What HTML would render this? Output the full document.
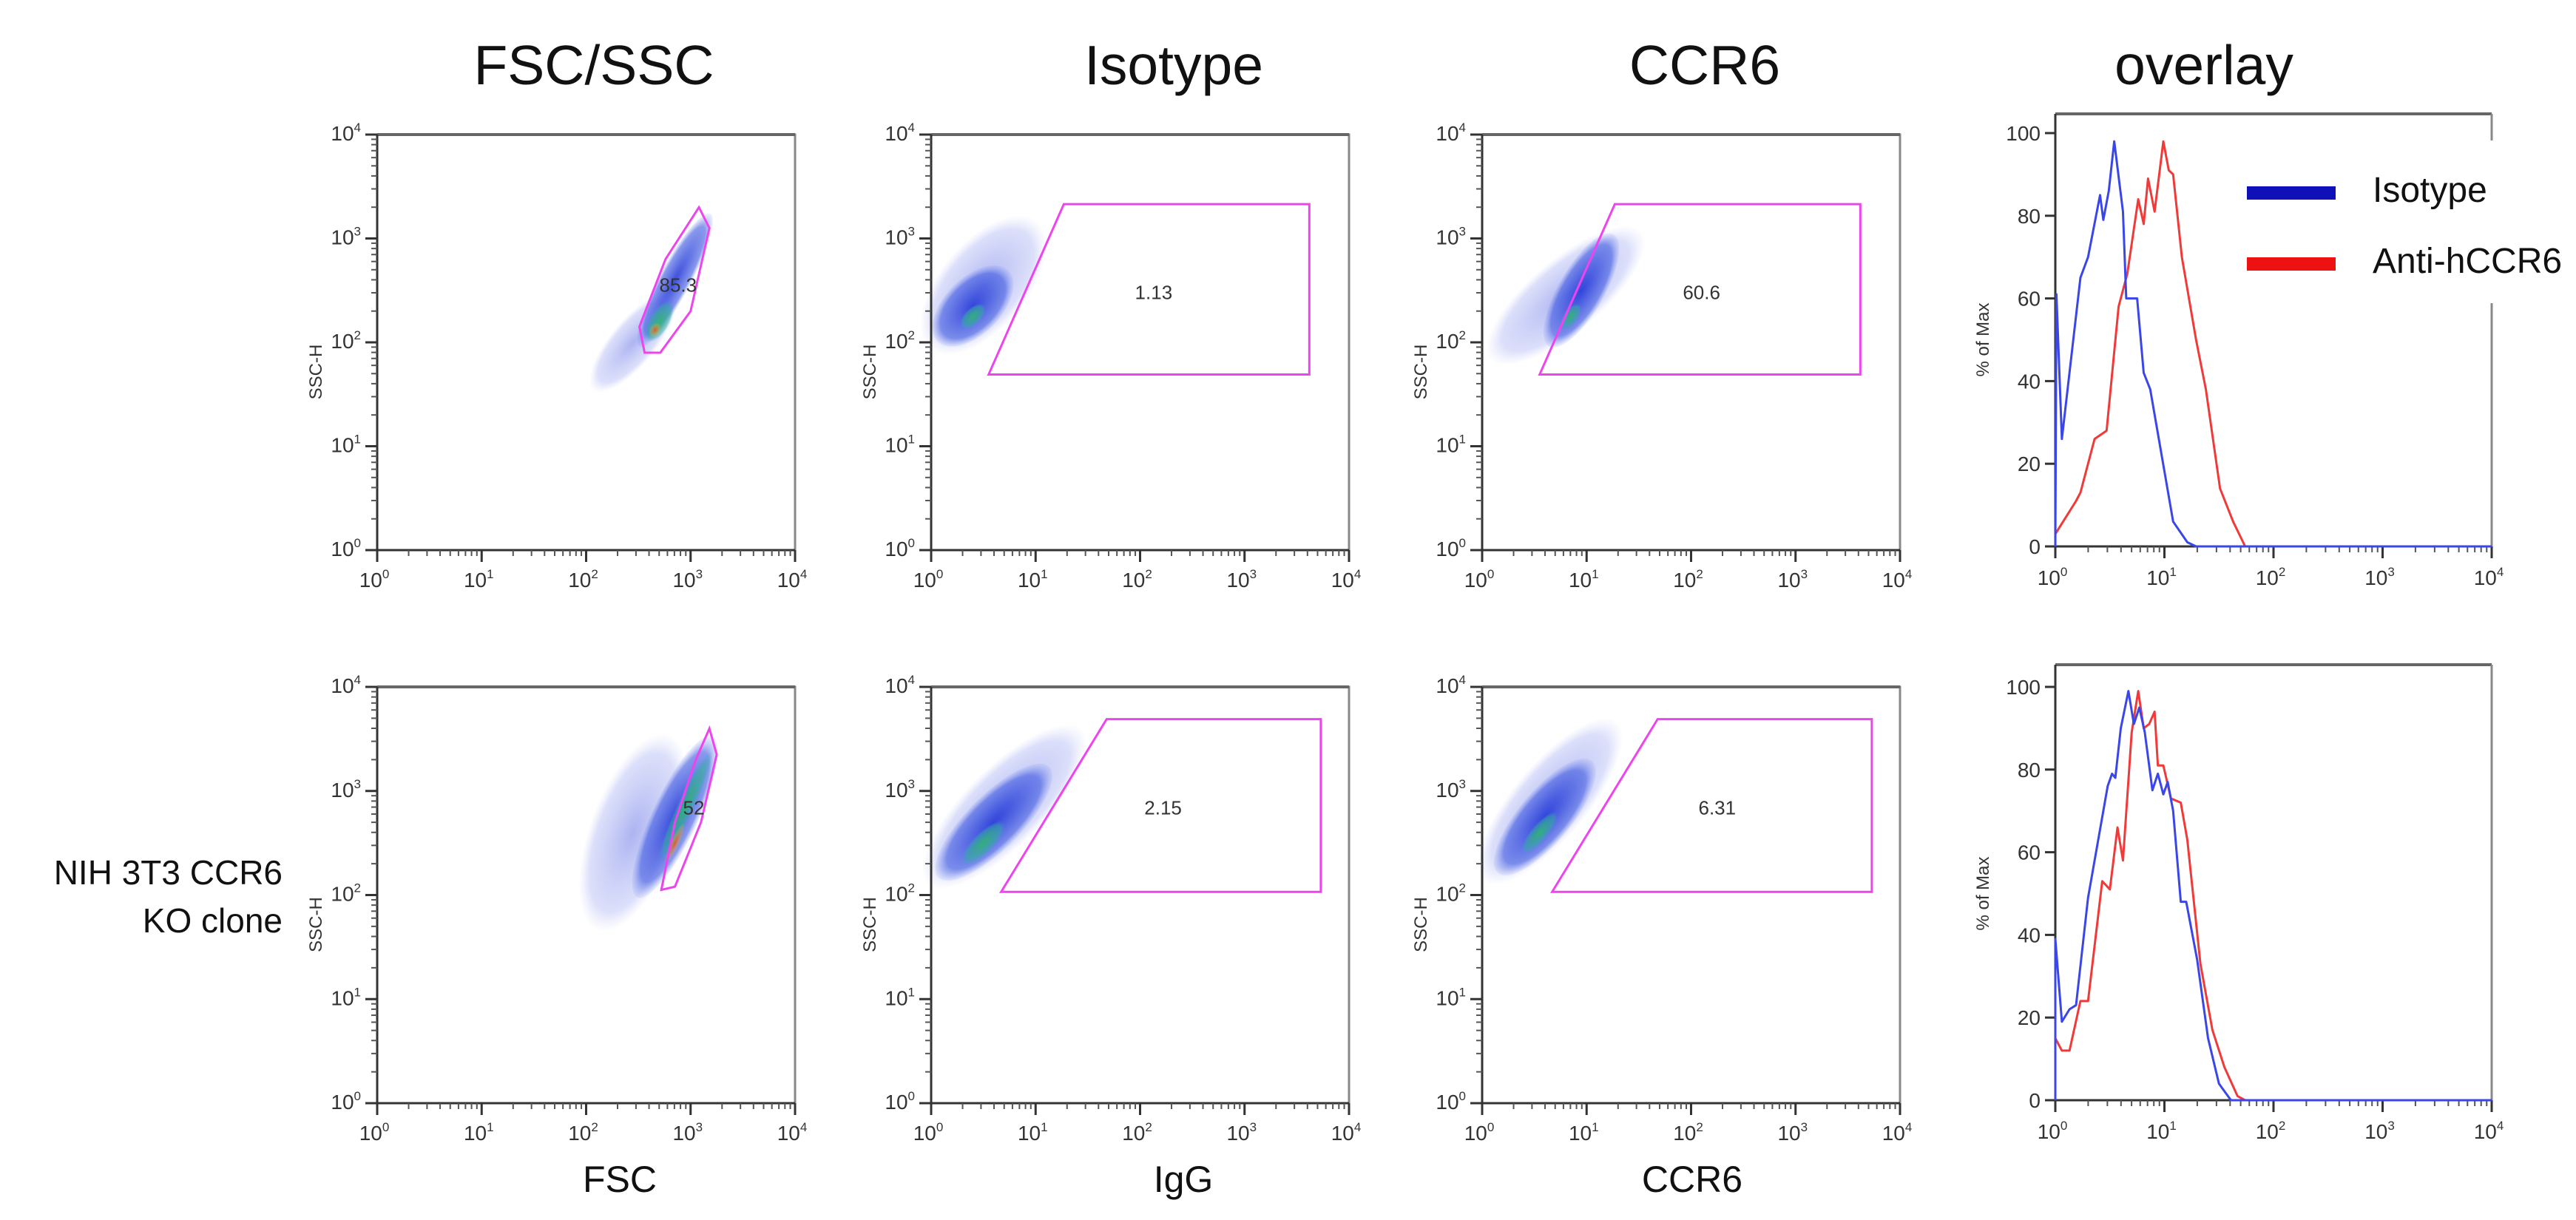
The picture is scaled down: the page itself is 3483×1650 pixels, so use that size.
<!DOCTYPE html>
<html><head><meta charset="utf-8">
<style>
html,body{margin:0;padding:0;background:#fff;}
svg{display:block;}
text{font-family:"Liberation Sans",Arial,sans-serif;}
</style></head>
<body>
<svg id="fig" width="3483" height="1650" viewBox="0 0 3483 1650" xmlns="http://www.w3.org/2000/svg">
<defs>
<radialGradient id="gBlue"><stop offset="0" stop-color="#1a2fd6" stop-opacity="0.85"/><stop offset="0.8" stop-color="#3a55e0" stop-opacity="0.6"/><stop offset="1" stop-color="#6f86ee" stop-opacity="0.1"/></radialGradient>
<radialGradient id="gSparse"><stop offset="0" stop-color="#5a68e4" stop-opacity="0.5"/><stop offset="0.8" stop-color="#8a96ee" stop-opacity="0.3"/><stop offset="1" stop-color="#aab4f4" stop-opacity="0"/></radialGradient>
<radialGradient id="gGreen"><stop offset="0" stop-color="#2fb86a" stop-opacity="0.9"/><stop offset="0.8" stop-color="#2fb0a0" stop-opacity="0.5"/><stop offset="1" stop-color="#31a7c9" stop-opacity="0"/></radialGradient>
<radialGradient id="gRed"><stop offset="0" stop-color="#e8502a" stop-opacity="0.95"/><stop offset="1" stop-color="#f0c020" stop-opacity="0.1"/></radialGradient>
</defs>
<g id="root"></g>
</svg>
<script>
// ---------- data ----------
const decadeTicks = [0, 1, 2, 3, 4];
const pctTicks = [0, 20, 40, 60, 80, 100];
const columnTitles = ["FSC/SSC", "Isotype", "CCR6", "overlay"];
const xAxisTitles = ["FSC", "IgG", "CCR6"];
const rowLabelLines = ["NIH 3T3 CCR6", "KO clone"];
const legendNames = ["Isotype", "Anti-hCCR6"];

// gates in log10 decades [x, y]
const gateRow1 = [[0.55, 1.69], [1.27, 3.33], [3.62, 3.33], [3.62, 1.69]];
const gateRow2 = [[0.67, 2.03], [1.68, 3.69], [3.73, 3.69], [3.73, 2.03]];
const fscGateRow1 = [[2.56, 1.90], [2.51, 2.15], [2.76, 2.80], [3.08, 3.30], [3.18, 3.10], [3.00, 2.30], [2.71, 1.90]];
const fscGateRow2 = [[2.72, 2.05], [2.85, 2.70], [3.05, 3.30], [3.18, 3.60], [3.25, 3.35], [3.10, 2.70], [2.85, 2.08]];
const gateValues = ["85.3", "1.13", "60.6", "52", "2.15", "6.31"];
const gateLabelPos = [[2.88, 2.55], [2.13, 2.48], [2.10, 2.48], [3.03, 2.84], [2.22, 2.84], [2.25, 2.84]];

// density clouds: [cx, cy, rx, ry, angle(deg), tier]  tier: 0 sparse,1 blue,2 green,3 red
const cloudFscR1 = [[2.45, 2.0, 0.6, 0.22, -50, 0], [2.85, 2.6, 0.72, 0.15, -62, 1], [2.7, 2.2, 0.22, 0.1, -60, 2], [2.66, 2.12, 0.07, 0.05, -60, 3]];
const cloudIsoR1 = [[0.5, 2.55, 0.8, 0.42, -50, 0], [0.4, 2.35, 0.48, 0.27, -45, 1], [0.4, 2.25, 0.15, 0.08, -45, 2]];
const cloudCcrR1 = [[0.8, 2.45, 0.95, 0.35, -40, 0], [0.95, 2.5, 0.62, 0.22, -60, 1], [0.85, 2.25, 0.14, 0.07, -55, 2]];
const cloudFscR2 = [[2.45, 2.6, 1.0, 0.42, -70, 0], [2.85, 2.75, 0.85, 0.22, -65, 1], [2.95, 2.85, 0.58, 0.08, -65, 2], [2.85, 2.5, 0.2, 0.04, -65, 3]];
const cloudIsoR2 = [[0.7, 2.85, 1.05, 0.38, -45, 0], [0.6, 2.7, 0.75, 0.26, -45, 1], [0.5, 2.5, 0.28, 0.1, -45, 2]];
const cloudCcrR2 = [[0.65, 2.9, 1.0, 0.36, -50, 0], [0.6, 2.75, 0.7, 0.25, -50, 1], [0.55, 2.6, 0.25, 0.08, -50, 2]];

// histograms: x in decades, y in % of max
const isoR1X = [0.0, 0.01, 0.06, 0.23, 0.30, 0.41, 0.44, 0.49, 0.54, 0.62, 0.65, 0.75, 0.81, 0.87, 1.08, 1.21, 1.29, 4.0];
const isoR1Y = [0, 61, 26, 65, 70, 85, 79, 86, 98, 81, 60, 60, 42, 38, 6, 1, 0, 0];
const antiR1X = [0.0, 0.19, 0.23, 0.36, 0.47, 0.58, 0.66, 0.76, 0.81, 0.85, 0.91, 0.99, 1.04, 1.08, 1.16, 1.29, 1.38, 1.51, 1.63, 1.74, 4.0];
const antiR1Y = [3, 11, 13, 26, 28, 58, 66, 84, 78, 89, 81, 98, 91, 90, 70, 50, 38, 14, 6, 0, 0];
const isoR2X = [0.0, 0.0, 0.06, 0.13, 0.19, 0.30, 0.38, 0.48, 0.52, 0.55, 0.60, 0.67, 0.72, 0.77, 0.82, 0.89, 0.94, 0.99, 1.03, 1.08, 1.15, 1.20, 1.30, 1.40, 1.50, 1.61, 4.0];
const isoR2Y = [0, 39, 19, 22, 23, 49, 61, 76, 79, 78, 90, 99, 91, 95, 89, 75, 79, 74, 77, 70, 48, 48, 34, 15, 4, 0, 0];
const antiR2X = [0.0, 0.06, 0.13, 0.23, 0.30, 0.43, 0.50, 0.57, 0.62, 0.70, 0.76, 0.81, 0.86, 0.91, 0.94, 0.99, 1.06, 1.15, 1.21, 1.33, 1.44, 1.55, 1.67, 1.74, 4.0];
const antiR2Y = [15, 12, 12, 24, 24, 53, 51, 66, 58, 89, 99, 90, 91, 94, 81, 81, 73, 72, 63, 33, 17, 8, 1, 0, 0];

// ---------- layout ----------
const NS = "http://www.w3.org/2000/svg";
const root = document.getElementById("root");
function mk(tag, attrs, parent) {
  const e = document.createElementNS(NS, tag);
  for (const k in attrs) e.setAttribute(k, attrs[k]);
  (parent || root).appendChild(e);
  return e;
}
const colX = [510, 1259, 2004];
const rowY = [[182, 744], [929, 1492]];
const PW = 565;
const tierFill = ["url(#gSparse)", "url(#gBlue)", "url(#gGreen)", "url(#gRed)"];

function scatter(ci, ri, cloud, gate, gateIdx, name) {
  const x0 = colX[ci], x1 = x0 + PW, yT = rowY[ri][0], yB = rowY[ri][1];
  const dx = (x1 - x0) / 4, dy = (yB - yT) / 4;
  const sx = d => x0 + d * dx, sy = d => yB - d * dy;
  const g = mk("g", {});
  
  
  const fr = mk("rect", {x: x0, y: yT, width: x1 - x0, height: yB - yT, fill: "none", stroke: "#888", "stroke-width": 3}, g);
  
  
  mk("line", {x1: x0, y1: yT, x2: x1, y2: yT, stroke: "#666", "stroke-width": 4}, g);
  cloud.forEach(c => {
    const el = mk("ellipse", {cx: sx(c[0]), cy: sy(c[1]), rx: c[2] * dx, ry: c[3] * dy, fill: tierFill[c[5]],
      transform: `rotate(${c[4]} ${sx(c[0])} ${sy(c[1])})`}, g);
    
    
  });
  const gp = mk("polygon", {points: gate.map(p => sx(p[0]) + "," + sy(p[1])).join(" "), fill: "none", stroke: "#ee44ee", "stroke-width": 3}, g);
  
  
  const gl = mk("text", {x: sx(gateLabelPos[gateIdx][0]), y: sy(gateLabelPos[gateIdx][1]) + 9, "font-size": 26, "text-anchor": "middle", fill: "#333"}, g);
  gl.textContent = gateValues[gateIdx];
  
  
  mk("line", {x1: x0, y1: yT, x2: x0, y2: yB + 14, stroke: "#333", "stroke-width": 3}, g);
  mk("line", {x1: x0 - 14, y1: yB, x2: x1, y2: yB, stroke: "#333", "stroke-width": 3}, g);
  decadeTicks.forEach(d => {
    mk("line", {x1: sx(d), y1: yB, x2: sx(d), y2: yB + 16, stroke: "#333", "stroke-width": 3}, g);
    mk("line", {x1: x0 - 16, y1: sy(d), x2: x0, y2: sy(d), stroke: "#333", "stroke-width": 3}, g);
    if (d < 4) for (let m = 2; m < 10; m++) {
      const o = Math.log10(m);
      mk("line", {x1: sx(d + o), y1: yB, x2: sx(d + o), y2: yB + 8, stroke: "#555", "stroke-width": 2}, g);
      mk("line", {x1: x0 - 8, y1: sy(d + o), x2: x0, y2: sy(d + o), stroke: "#555", "stroke-width": 2}, g);
    }
    const tx = mk("text", {x: sx(d) - 4, y: yB + 50, "font-size": 28, "text-anchor": "middle", fill: "#333"}, g);
    tx.innerHTML = '10<tspan font-size="17" dy="-12">' + d + '</tspan>';
    
    
    const ty = mk("text", {x: x0 - 22, y: sy(d) + 8, "font-size": 28, "text-anchor": "end", fill: "#333"}, g);
    ty.innerHTML = '10<tspan font-size="17" dy="-12">' + d + '</tspan>';
    
    
  });
  const yl = mk("text", {x: x0 - 75, y: (yT + yB) / 2 + 40, "font-size": 24, "text-anchor": "middle", fill: "#333",
    transform: `rotate(-90 ${x0 - 75} ${(yT + yB) / 2 + 40})`}, g);
  yl.textContent = "SSC-H";
  
  
}

function overlay(ri, bx, by, ax, ay, name) {
  const x0 = 2779, x1 = 3369;
  const yTop = ri === 0 ? 154 : 899, y100 = ri === 0 ? 180 : 929, y0 = ri === 0 ? 739 : 1488;
  const sx = d => x0 + d * (x1 - x0) / 4, sy = p => y0 - p * (y0 - y100) / 100;
  const g = mk("g", {});
  
  
  mk("line", {x1: x0, y1: yTop, x2: x1, y2: yTop, stroke: "#666", "stroke-width": 4}, g);
  if (ri === 0) {
    mk("line", {x1: x1, y1: yTop, x2: x1, y2: 190, stroke: "#888", "stroke-width": 3}, g);
    mk("line", {x1: x1, y1: 410, x2: x1, y2: y0, stroke: "#888", "stroke-width": 3}, g);
  } else {
    mk("line", {x1: x1, y1: yTop, x2: x1, y2: y0, stroke: "#888", "stroke-width": 3}, g);
  }
  mk("line", {x1: x0, y1: yTop, x2: x0, y2: y0 + 14, stroke: "#333", "stroke-width": 3}, g);
  mk("line", {x1: x0 - 14, y1: y0, x2: x1, y2: y0, stroke: "#333", "stroke-width": 3}, g);
  pctTicks.forEach(p => {
    mk("line", {x1: x0 - 14, y1: sy(p), x2: x0, y2: sy(p), stroke: "#333", "stroke-width": 3}, g);
    const t = mk("text", {x: x0 - 20, y: sy(p) + 10, "font-size": 28, "text-anchor": "end", fill: "#333"}, g);
    t.textContent = p;
    
    
  });
  decadeTicks.forEach(d => {
    mk("line", {x1: sx(d), y1: y0, x2: sx(d), y2: y0 + 16, stroke: "#333", "stroke-width": 3}, g);
    if (d < 4) for (let m = 2; m < 10; m++)
      mk("line", {x1: sx(d + Math.log10(m)), y1: y0, x2: sx(d + Math.log10(m)), y2: y0 + 8, stroke: "#555", "stroke-width": 2}, g);
    const t = mk("text", {x: sx(d) - 4, y: y0 + 52, "font-size": 28, "text-anchor": "middle", fill: "#333"}, g);
    t.innerHTML = '10<tspan font-size="17" dy="-12">' + d + '</tspan>';
    
    
  });
  const yl = mk("text", {x: x0 - 90, y: (y100 + y0) / 2, "font-size": 24, "text-anchor": "middle", fill: "#333",
    transform: `rotate(-90 ${x0 - 90} ${(y100 + y0) / 2})`}, g);
  yl.textContent = "% of Max";
  
  
  const red = mk("polyline", {points: ax.map((d, i) => sx(d) + "," + sy(ay[i])).join(" "), fill: "none", stroke: "#f03a3a", "stroke-width": 3, "stroke-linejoin": "round"}, g);
  
  
  const blue = mk("polyline", {points: bx.map((d, i) => sx(d) + "," + sy(by[i])).join(" "), fill: "none", stroke: "#3a46e8", "stroke-width": 3, "stroke-linejoin": "round"}, g);
  
  
}

const titleX = [803, 1587, 2305, 2980];
columnTitles.forEach((t, i) => {
  const el = mk("text", {x: titleX[i], y: 114, "font-size": 75, "text-anchor": "middle", fill: "#111"});
  el.textContent = t;
  
  
});
const axX = [838, 1600, 2288];
xAxisTitles.forEach((t, i) => {
  const el = mk("text", {x: axX[i], y: 1612, "font-size": 50, "text-anchor": "middle", fill: "#111"});
  el.textContent = t;
  
  
});
rowLabelLines.forEach((t, i) => {
  const el = mk("text", {x: 382, y: 1196 + i * 65, "font-size": 46, "text-anchor": "end", fill: "#111"});
  el.textContent = t;
  
  
});

scatter(0, 0, cloudFscR1, fscGateRow1, 0, "fsc-ssc-plot-row1");
scatter(1, 0, cloudIsoR1, gateRow1, 1, "isotype-plot-row1");
scatter(2, 0, cloudCcrR1, gateRow1, 2, "ccr6-plot-row1");
scatter(0, 1, cloudFscR2, fscGateRow2, 3, "fsc-ssc-plot-row2");
scatter(1, 1, cloudIsoR2, gateRow2, 4, "isotype-plot-row2");
scatter(2, 1, cloudCcrR2, gateRow2, 5, "ccr6-plot-row2");
overlay(0, isoR1X, isoR1Y, antiR1X, antiR1Y, "overlay-plot-row1");
overlay(1, isoR2X, isoR2Y, antiR2X, antiR2Y, "overlay-plot-row2");

const legColors = ["#1010b8", "#ee1111"];
const legY = [261, 357];
legendNames.forEach((n, i) => {
  const r = mk("rect", {x: 3038, y: legY[i] - 9, width: 120, height: 18, fill: legColors[i]});
  
  
  const t = mk("text", {x: 3208, y: legY[i] + 12, "font-size": 48, fill: "#111"});
  t.textContent = n;
  
  
});
</script>
</body></html>
